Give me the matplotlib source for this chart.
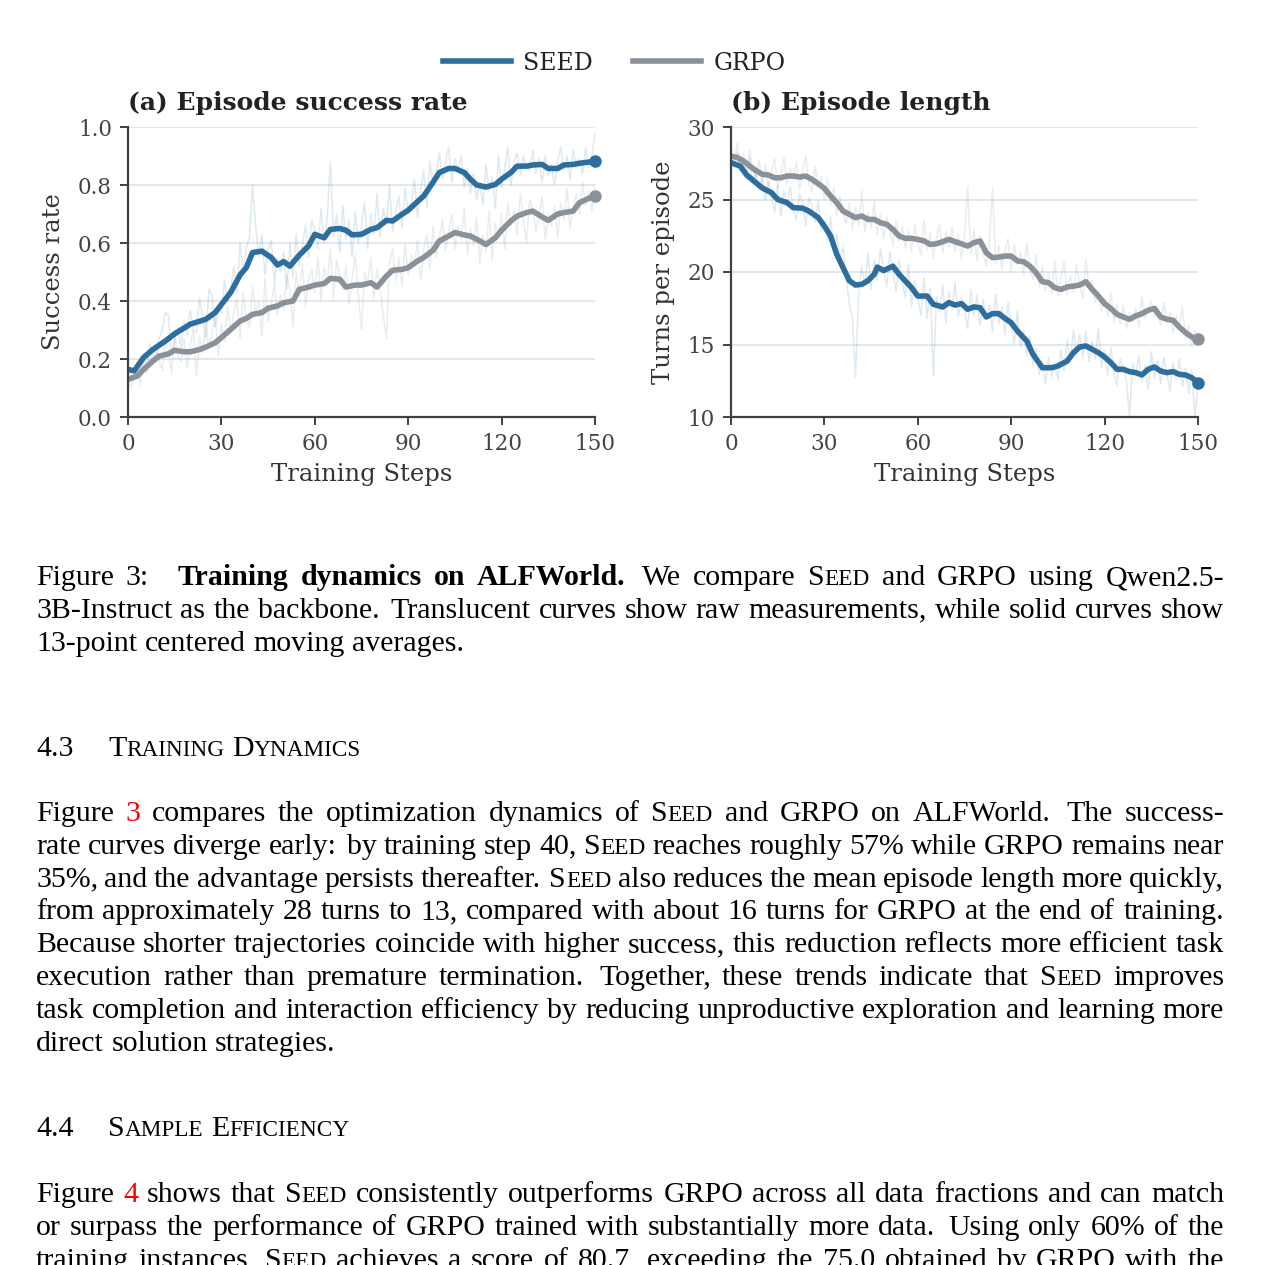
import re
import matplotlib
matplotlib.use("Agg")
import matplotlib.pyplot as plt
from matplotlib.lines import Line2D

W, H = 1261, 1265

# ---- data ----
raw_steps = list(range(151))

seed_sr_raw = [
    .16, .12, .15, .19, .14, .22, .17, .25, .21, .20,
    .27, .30, .36, .35, .22, .26, .31, .24, .33, .28,
    .37, .30, .29, .41, .34, .27, .44, .42, .31, .38,
    .36, .47, .40, .44, .52, .43, .60, .50, .58, .62,
    .80, .66, .55, .63, .49, .58, .61, .46, .55, .50,
    .57, .44, .60, .48, .63, .52, .59, .66, .55, .68,
    .64, .58, .72, .60, .69, .88, .62, .70, .57, .73,
    .61, .68, .55, .71, .60, .66, .74, .58, .70, .63,
    .77, .62, .72, .66, .80, .64, .71, .76, .65, .79,
    .70, .74, .82, .69, .78, .85, .72, .88, .80, .84,
    .91, .82, .88, .93, .81, .89, .85, .90, .79, .86,
    .77, .84, .75, .81, .73, .87, .78, .83, .72, .90,
    .79, .86, .93, .80, .88, .91, .83, .90, .86, .85,
    .92, .84, .89, .81, .90, .83, .87, .80, .88, .93,
    .85, .90, .82, .92, .86, .89, .84, .93, .86, .90,
    .98]
grpo_sr_raw = [
    .12, .10, .14, .17, .11, .19, .15, .22, .18, .24,
    .20, .16, .26, .23, .15, .28, .21, .19, .27, .17,
    .25, .30, .14, .28, .22, .33, .24, .29, .35, .21,
    .32, .26, .38, .29, .36, .41, .27, .43, .34, .31,
    .45, .36, .40, .28, .48, .33, .39, .46, .35, .42,
    .37, .49, .44, .31, .50, .42, .53, .38, .47, .51,
    .43, .55, .40, .52, .46, .58, .41, .54, .49, .44,
    .52, .39, .48, .56, .42, .30, .50, .46, .55, .41,
    .51, .44, .35, .27, .53, .58, .47, .55, .45, .60,
    .49, .56, .52, .61, .47, .58, .63, .51, .66, .55,
    .62, .68, .57, .64, .70, .58, .66, .61, .72, .56,
    .65, .59, .69, .53, .63, .57, .71, .54, .67, .62,
    .70, .58, .74, .66, .71, .63, .77, .68, .60, .75,
    .72, .64, .69, .76, .61, .70, .66, .73, .62, .74,
    .68, .79, .65, .72, .77, .70, .81, .73, .78, .71,
    .80]
seed_len_raw = [
    27.8, 27.2, 28.3, 26.9, 27.5, 26.4, 27.9, 26.1, 26.8, 25.7,
    26.5, 24.9, 26.2, 25.3, 24.1, 26.0, 23.9, 25.6, 24.7, 25.9,
    24.3, 23.6, 25.4, 24.8, 23.2, 25.1, 24.6, 23.4, 24.9, 22.8,
    23.5, 22.1, 23.8, 21.4, 22.6, 20.9, 21.7, 19.6, 17.8, 16.9,
    12.7, 18.6, 20.4, 19.1, 21.3, 18.8, 20.9, 19.4, 21.6, 20.2,
    19.0, 21.4, 20.1, 18.7, 20.8, 19.3, 18.2, 20.5, 17.6, 19.4,
    18.1, 17.0, 19.6, 16.8, 18.9, 12.8, 18.3, 17.2, 19.1, 16.5,
    18.6, 17.4, 19.3, 16.9, 18.2, 17.5, 16.1, 18.8, 17.0, 18.4,
    16.3, 18.1, 16.8, 17.7, 15.9, 18.5, 16.4, 17.6, 15.7, 17.9,
    16.2, 15.1, 17.3, 14.8, 16.0, 14.2, 15.5, 13.6, 14.7, 12.9,
    13.8, 12.3, 14.1, 12.8, 13.5, 12.6, 14.6, 13.2, 15.3, 13.9,
    16.0, 14.3, 15.7, 14.1, 15.9, 13.8, 15.2, 14.0, 16.1, 13.4,
    14.6, 12.9, 14.8, 13.1, 12.2, 14.0, 13.3, 12.5, 10.1, 13.7,
    12.8, 14.2, 12.4, 13.6, 11.9, 14.5, 12.7, 13.9, 12.3, 14.1,
    13.0, 11.8, 13.8, 12.6, 14.0, 12.1, 13.4, 11.6, 13.2, 10.1,
    12.0]
grpo_len_raw = [
    28.5, 27.6, 28.9, 27.3, 28.2, 26.8, 28.4, 27.0, 26.5, 27.7,
    26.2, 27.4, 25.9, 26.9, 27.8, 25.8, 26.7, 27.9, 26.0, 27.2,
    26.4, 27.6, 25.7, 26.9, 28.0, 26.1, 25.5, 27.3, 25.9, 26.6,
    25.0, 26.4, 24.6, 25.8, 23.9, 25.2, 24.1, 23.3, 24.8, 22.9,
    24.5, 23.2, 25.6, 22.8, 24.1, 23.0, 24.9, 22.6, 24.0, 22.3,
    23.8, 22.9, 21.8, 23.5, 22.1, 23.2, 21.6, 22.9, 21.4, 23.3,
    22.0, 21.2, 23.6, 21.5, 22.7, 21.0, 22.4, 23.3, 21.3, 22.8,
    21.7, 23.1, 21.4, 22.6, 20.9, 22.3, 25.9, 21.2, 22.9, 20.8,
    22.5, 21.3, 20.4, 22.1, 25.8, 20.6, 21.8, 20.2, 21.5, 22.3,
    20.1, 21.9, 20.5, 21.4, 19.8, 22.0, 20.3, 19.5, 21.2, 19.0,
    20.4, 18.7, 19.9, 18.5, 20.8, 18.3, 19.6, 20.7, 18.4, 19.8,
    18.6, 20.5, 19.0, 18.2, 20.9, 18.8, 19.4, 17.9, 18.6, 17.3,
    18.2, 17.0, 18.6, 16.5, 17.8, 16.4, 17.7, 16.1, 17.2, 16.6,
    17.5, 16.2, 18.3, 16.8, 17.4, 18.0, 16.9, 17.6, 16.3, 17.9,
    16.5, 17.2, 15.8, 17.0, 16.1, 17.6, 15.4, 16.3, 14.9, 16.0,
    15.1]

# smoothed (13-pt moving average) curves, read at key steps
seed_sr_steps = [0, 2, 5, 8, 12, 15, 20, 25, 28, 30, 33, 36, 38, 40, 43, 46, 48, 50, 52, 55,
                 58, 60, 63, 65, 68, 70, 72, 75, 78, 80, 83, 85, 88, 90, 93, 95, 98, 100, 103,
                 105, 108, 110, 112, 115, 118, 120, 123, 125, 128, 130, 133, 135, 138, 140,
                 143, 145, 148, 150]
seed_sr = [.164, .159, .205, .233, .262, .287, .32, .337, .36, .388, .43, .49, .515, .567, .572,
           .55, .524, .536, .52, .558, .59, .63, .618, .647, .65, .644, .628, .63, .647, .653,
           .678, .676, .699, .713, .743, .762, .81, .843, .857, .857, .843, .82, .80, .793,
           .802, .82, .843, .865, .865, .869, .871, .857, .857, .869, .871, .875, .879, .883]
grpo_sr_steps = [0, 3, 5, 8, 10, 13, 15, 18, 20, 23, 25, 28, 30, 33, 36, 38, 40, 43, 45, 48, 50,
                 53, 55, 58, 60, 63, 65, 68, 70, 73, 75, 78, 80, 83, 85, 88, 90, 93, 95, 98, 100,
                 103, 105, 108, 110, 113, 115, 118, 120, 123, 125, 128, 130, 133, 135, 138, 140,
                 143, 145, 148, 150]
grpo_sr = [.13, .141, .164, .193, .21, .218, .23, .225, .225, .233, .241, .256, .274, .302,
           .331, .34, .354, .36, .375, .383, .394, .40, .44, .448, .455, .46, .478, .475, .448,
           .455, .455, .463, .448, .486, .506, .509, .515, .538, .55, .575, .607, .624, .636,
           .628, .624, .607, .595, .618, .644, .676, .693, .705, .71, .69, .678, .70, .705,
           .71, .739, .754, .762]

seed_len_steps = [0, 3, 5, 8, 10, 13, 15, 18, 20, 23, 25, 28, 30, 32, 34, 36, 38, 40, 42, 44,
                  46, 47, 49, 52, 54, 56, 58, 60, 63, 65, 68, 70, 72, 74, 76, 78, 80, 82, 84,
                  86, 88, 90, 92, 95, 97, 100, 103, 105, 108, 110, 112, 114, 116, 118, 120,
                  122, 124, 126, 128, 130, 132, 134, 136, 138, 140, 142, 144, 146, 148, 150]
seed_len = [27.54, 27.3, 26.7, 26.16, 25.8, 25.47, 25.0, 24.78, 24.44, 24.4, 24.2, 23.75,
            23.17, 22.48, 21.2, 20.3, 19.4, 19.1, 19.15, 19.4, 19.84, 20.34, 20.1, 20.4,
            19.84, 19.38, 18.92, 18.34, 18.34, 17.77, 17.59, 17.89, 17.72, 17.82, 17.43,
            17.59, 17.54, 16.9, 17.13, 17.13, 16.8, 16.5, 15.93, 15.24, 14.32, 13.4, 13.4,
            13.52, 13.86, 14.44, 14.83, 14.9, 14.67, 14.44, 14.14, 13.75, 13.29, 13.29,
            13.13, 13.06, 12.9, 13.29, 13.45, 13.17, 13.06, 13.13, 12.94, 12.9, 12.71, 12.37]
grpo_len_steps = list(range(0, 151, 2))
grpo_len = [28.0, 27.89, 27.66, 27.31, 27.0, 26.74, 26.69, 26.5, 26.5, 26.62, 26.62, 26.55,
            26.62, 26.39, 26.09, 25.77, 25.24, 24.78, 24.2, 23.98, 23.75, 23.86, 23.63, 23.63,
            23.4, 23.29, 22.94, 22.48, 22.32, 22.32, 22.25, 22.14, 21.9, 21.95, 22.09, 22.25,
            22.09, 21.95, 21.79, 22.02, 22.14, 21.33, 20.99, 21.03, 21.1, 21.1, 20.76, 20.71,
            20.41, 19.95, 19.33, 19.26, 18.92, 18.8, 18.97, 19.03, 19.1, 19.33, 18.8, 18.34,
            17.82, 17.49, 17.08, 16.9, 16.74, 16.97, 17.13, 17.36, 17.49, 16.9, 16.74, 16.67,
            16.2, 15.82, 15.52, 15.36]

SEED_C = '#2e6e9e'
GRPO_C = '#8b9199'

plt.rcParams['font.family'] = 'DejaVu Serif'

fig = plt.figure(figsize=(W / 100, H / 100), dpi=100)
fig.patch.set_facecolor('white')


def box(x0, y0, x1, y1):
    return [x0 / W, 1 - y1 / H, (x1 - x0) / W, (y1 - y0) / H]


def style_ax(ax, title, ylabel):
    for s in ['top', 'right']:
        ax.spines[s].set_visible(False)
    for s in ['left', 'bottom']:
        ax.spines[s].set_color('#3d4148')
        ax.spines[s].set_linewidth(1.6)
    ax.tick_params(direction='out', length=6, width=1.4, color='#3d4148',
                   labelsize=15.5, labelcolor='#444444', pad=5.5)
    ax.yaxis.grid(True, color='#dde4ec', lw=1.2)
    ax.set_axisbelow(True)
    ax.set_xlim(0, 150)
    ax.set_xticks([0, 30, 60, 90, 120, 150])
    ax.set_xlabel('Training Steps', fontsize=17.5, color='#333333', labelpad=6)
    ax.set_ylabel(ylabel, fontsize=17.5, color='#333333', labelpad=9)
    ax.set_title(title, loc='left', fontsize=18, fontweight='bold', color='#222222', pad=12)


def draw(ax, raw_s, raw_g, st_s, sm_s, st_g, sm_g):
    ax.plot(raw_steps, raw_s, color=SEED_C, lw=1.1, alpha=0.15)
    ax.plot(raw_steps, raw_g, color=GRPO_C, lw=1.1, alpha=0.17)
    ax.plot(st_g, sm_g, color=GRPO_C, lw=4.0, solid_joinstyle='round')
    ax.plot(st_s, sm_s, color=SEED_C, lw=4.0, solid_joinstyle='round')
    ax.plot(st_g[-1], sm_g[-1], 'o', color=GRPO_C, ms=8, clip_on=False)
    ax.plot(st_s[-1], sm_s[-1], 'o', color=SEED_C, ms=8, clip_on=False)


ax1 = fig.add_axes(box(128, 127, 595, 417))
draw(ax1, seed_sr_raw, grpo_sr_raw, seed_sr_steps, seed_sr, grpo_sr_steps, grpo_sr)
style_ax(ax1, '(a) Episode success rate', 'Success rate')
ax1.set_ylim(0, 1.0)
ax1.set_yticks([0, .2, .4, .6, .8, 1.0])
ax1.set_yticklabels(['0.0', '0.2', '0.4', '0.6', '0.8', '1.0'])

ax2 = fig.add_axes(box(731, 127, 1198, 417))
draw(ax2, seed_len_raw, grpo_len_raw, seed_len_steps, seed_len, grpo_len_steps, grpo_len)
style_ax(ax2, '(b) Episode length', 'Turns per episode')
ax2.set_ylim(10, 30)
ax2.set_yticks([10, 15, 20, 25, 30])

handles = [Line2D([], [], color=SEED_C, lw=4.0), Line2D([], [], color=GRPO_C, lw=4.0)]
fig.legend(handles, ['SEED', 'GRPO'], loc='center', bbox_to_anchor=(614 / W, 1 - 63 / H),
           ncol=2, frameon=False, fontsize=17, handlelength=2.9, handletextpad=0.5,
           columnspacing=1.7, labelcolor='#222222')

# ---- page text (caption and paragraphs), justified by hand ----
BODY = 'Liberation Serif'
FS = 21.5
SC = 0.78
LEFT, RIGHT = 36, 1224
renderer = fig.canvas.get_renderer()


def props(kind):
    p = dict(family=BODY, fontsize=FS, color='black')
    if kind == 'b':
        p['fontweight'] = 'bold'
    elif kind == 'sc':
        p['fontsize'] = FS * SC
    elif kind == 'red':
        p['color'] = '#ff0000'
    return p


def parse(word):
    out = []
    for p in re.findall(r'\{[^}]*\}|\[[^\]]*\]|\*[^*]*\*|[^{\[*]+', word):
        if p[0] == '{':
            out.append((p[1:-1], 'sc'))
        elif p[0] == '[':
            out.append((p[1:-1], 'red'))
        elif p[0] == '*':
            out.append((p[1:-1], 'b'))
        else:
            out.append((p, 'n'))
    return out


def width(s, kind):
    if not s or s == '~':
        return 0.0
    t = fig.text(0, 0, s, **props(kind))
    w = t.get_window_extent(renderer).width
    t.remove()
    return w


SPACE = width('a a', 'n') - 2 * width('a', 'n')


def draw_line(text, y, x0=LEFT, justify=True):
    words = text.split(' ')
    parsed = [parse(w) for w in words]
    ws = [sum(width(s, k) for s, k in p) for p in parsed]
    weights = []
    for w in words[:-1]:
        plain = re.sub(r'[{}\[\]*]', '', w)
        weights.append(1.4 if plain.endswith(('.', ':')) else 1.0)
    if justify and weights:
        g = (RIGHT - x0 - sum(ws)) / sum(weights)
    else:
        g = SPACE
    x = x0
    for i, p in enumerate(parsed):
        for s, k in p:
            if s != '~':
                fig.text(x / W, 1 - y / H, s, va='baseline', ha='left', **props(k))
            x += width(s, k)
        if i < len(weights):
            x += g * weights[i]


caption = [
    "Figure 3: ~ *Training* *dynamics* *on* *ALFWorld.* We compare S{EED} and GRPO using Qwen2.5-",
    "3B-Instruct as the backbone. Translucent curves show raw measurements, while solid curves show",
    "13-point centered moving averages.",
]
para1 = [
    "Figure [3] compares the optimization dynamics of S{EED} and GRPO on ALFWorld. The success-",
    "rate curves diverge early: by training step 40, S{EED} reaches roughly 57% while GRPO remains near",
    "35%, and the advantage persists thereafter. S{EED} also reduces the mean episode length more quickly,",
    "from approximately 28 turns to 13, compared with about 16 turns for GRPO at the end of training.",
    "Because shorter trajectories coincide with higher success, this reduction reflects more efficient task",
    "execution rather than premature termination. Together, these trends indicate that S{EED} improves",
    "task completion and interaction efficiency by reducing unproductive exploration and learning more",
    "direct solution strategies.",
]
para2 = [
    "Figure [4] shows that S{EED} consistently outperforms GRPO across all data fractions and can match",
    "or surpass the performance of GRPO trained with substantially more data. Using only 60% of the",
    "training instances, S{EED} achieves a score of 80.7, exceeding the 75.0 obtained by GRPO with the",
]

LEAD = 32.8


def draw_par(lines, y0, last_full=False):
    for i, ln in enumerate(lines):
        last = (i == len(lines) - 1) and not last_full
        draw_line(ln, y0 + i * LEAD, justify=not last)


draw_par(caption, 585)
draw_line("4.3", 756, justify=False)
draw_line("T{RAINING} D{YNAMICS}", 756, x0=108, justify=False)
draw_par(para1, 821)
draw_line("4.4", 1136, justify=False)
draw_line("S{AMPLE} E{FFICIENCY}", 1136, x0=108, justify=False)
draw_par(para2, 1202, last_full=True)

fig.savefig('out.png', dpi=100, facecolor='white')
